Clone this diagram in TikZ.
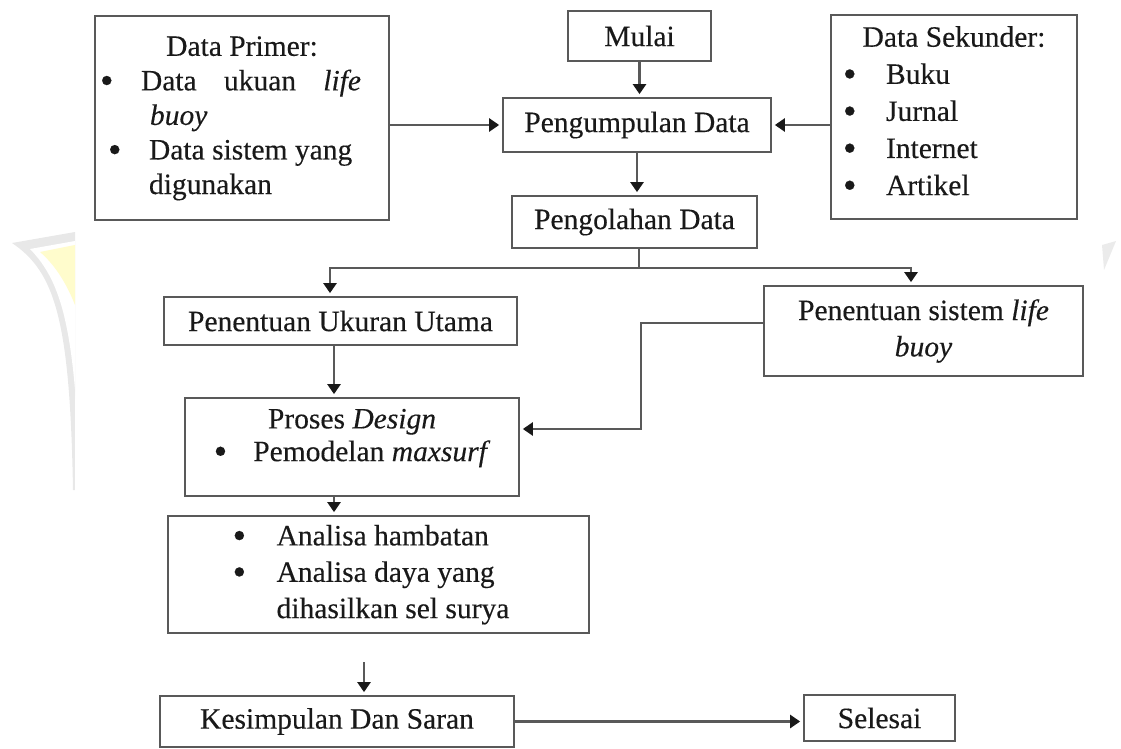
\documentclass[tikz,border=0pt]{standalone}
\usepackage{fontspec}
\setmainfont{Liberation Serif}[FakeBold=0.3]
\usetikzlibrary{arrows.meta}
\newlength\pxu
\setlength\pxu{0.02cm}
\newcommand{\titik}{\smash{\raisebox{-0.1em}{\fontsize{22}{18}\selectfont\textbullet}}}

\tikzset{
  blok/.style={draw=black!65, line width=1.4pt, text=black!90, inner sep=0pt,
    align=center, font=\fontsize{16.8}{20.7}\selectfont},
  alir/.style={draw=black!65, line width=1.4pt, shorten >=1.5pt,
    -{Triangle[length=5.7pt,width=7.4pt,color=black!90]}},
}

\begin{document}
\begin{tikzpicture}[x=0.02cm,y=-0.02cm]
\useasboundingbox (0,0) rectangle (1121,749);

% watermark fragments
\fill[black!9] (12,243) -- (75,232) -- (75,490) -- (73,490)
  .. controls (70,320) and (55,272) .. cycle;
\fill[white] (30,249) -- (75,241) -- (75,490) -- (80,490)
  .. controls (76,330) and (62,282) .. cycle;
\fill[yellow!20] (40,252) -- (75,245) -- (75,305) .. controls (66,282) and (54,264) .. cycle;
\fill[black!8] (1102,245) -- (1116,241) -- (1104,270) -- cycle;

\node[blok, minimum width=2.86cm, minimum height=1.0cm] (mulai) at (639.5,36) {Mulai};
\node[blok, minimum width=5.36cm, minimum height=1.08cm] (kumpul) at (637,125) {Pengumpulan Data};
\node[blok, minimum width=4.9cm, minimum height=1.04cm] (olah) at (634.5,222) {Pengolahan Data};

\node[blok, minimum width=5.88cm, minimum height=4.08cm] (primer) at (242,118) {%
  \renewcommand{\arraystretch}{0.95}%
  \begin{tabular}{@{}p{41\pxu}@{}p{243\pxu}@{}}
  \multicolumn{2}{c}{Data Primer:}\\
  \titik & \makebox[220\pxu][s]{Data ukuan \textit{life}}\\
  & \hspace*{9\pxu}\textit{buoy}\\
  \hspace*{8\pxu}\titik & \hspace*{8\pxu}Data sistem yang\\
  & \hspace*{8\pxu}digunakan
  \end{tabular}};

\node[blok, minimum width=4.92cm, minimum height=4.08cm] (sekunder) at (954,117) {%
  \renewcommand{\arraystretch}{1.02}%
  \begin{tabular}{@{}p{43\pxu}@{}p{179\pxu}@{}}
  \multicolumn{2}{c}{Data Sekunder:}\\
  \titik & Buku\\
  \titik & Jurnal\\
  \titik & Internet\\
  \titik & Artikel\\[4pt]
  \end{tabular}};

\node[blok, minimum width=7.06cm, minimum height=0.96cm] (ukuran) at (340.5,321) {Penentuan Ukuran Utama};
\node[blok, minimum width=6.38cm, minimum height=1.8cm] (sistem) at (923.5,331) {Penentuan sistem \textit{life}\\\textit{buoy}};

\node[blok, minimum width=6.68cm, minimum height=1.96cm] (proses) at (352,447) {%
  \renewcommand{\arraystretch}{0.9}%
  \begin{tabular}{@{}c@{}}
  Proses \textit{Design}\\
  \titik\hspace*{26\pxu}Pemodelan \textit{maxsurf}\\[10pt]
  \end{tabular}};

\node[blok, minimum width=8.42cm, minimum height=2.34cm] (analisa) at (378.5,574.5) {%
  \begin{tabular}{@{}p{44\pxu}@{}l@{\hspace*{15\pxu}}}
  \titik & Analisa hambatan\\
  \titik & Analisa daya yang\\
  & dihasilkan sel surya
  \end{tabular}};

\node[blok, minimum width=7.08cm, minimum height=1.02cm] (simpul) at (337,721.5) {Kesimpulan Dan Saran};
\node[blok, minimum width=3.02cm, minimum height=0.92cm] (selesai) at (879.5,718) {Selesai};

\coordinate (cab) at (639,268);
\coordinate (kiri) at (330,268);
\coordinate (kanan) at (911,268);
\coordinate (belok) at (641,323);
\coordinate (belok2) at (641,429);
\coordinate (panah) at (364,662);

\path[alir] (mulai.south) -- (mulai.south |- kumpul.north);
\path[alir] (kumpul.south) -- (kumpul.south |- olah.north);
\path[alir] (primer.east |- kumpul.west) -- (kumpul.west);
\path[alir] (sekunder.west |- kumpul.east) -- (kumpul.east);
\path[draw=black!65, line width=1.4pt] (cab |- olah.south) -- (cab);
\path[alir] (cab) -- (kiri) -- (kiri |- ukuran.north);
\path[alir] (cab) -- (kanan) -- (kanan |- sistem.north);
\path[alir] (sistem.west |- belok) -- (belok) -- (belok2) -- (belok2 -| proses.east);
\path[alir] ([xshift=-0.13cm]ukuran.south) -- ([xshift=-0.13cm]ukuran.south |- proses.north);
\path[alir] ([xshift=-0.36cm]proses.south) -- ([xshift=-0.36cm]proses.south |- analisa.north);
\path[alir] (panah) -- (panah |- simpul.north);
\path[alir] (simpul.east) -- (simpul.east -| selesai.west);
\end{tikzpicture}
\end{document}
